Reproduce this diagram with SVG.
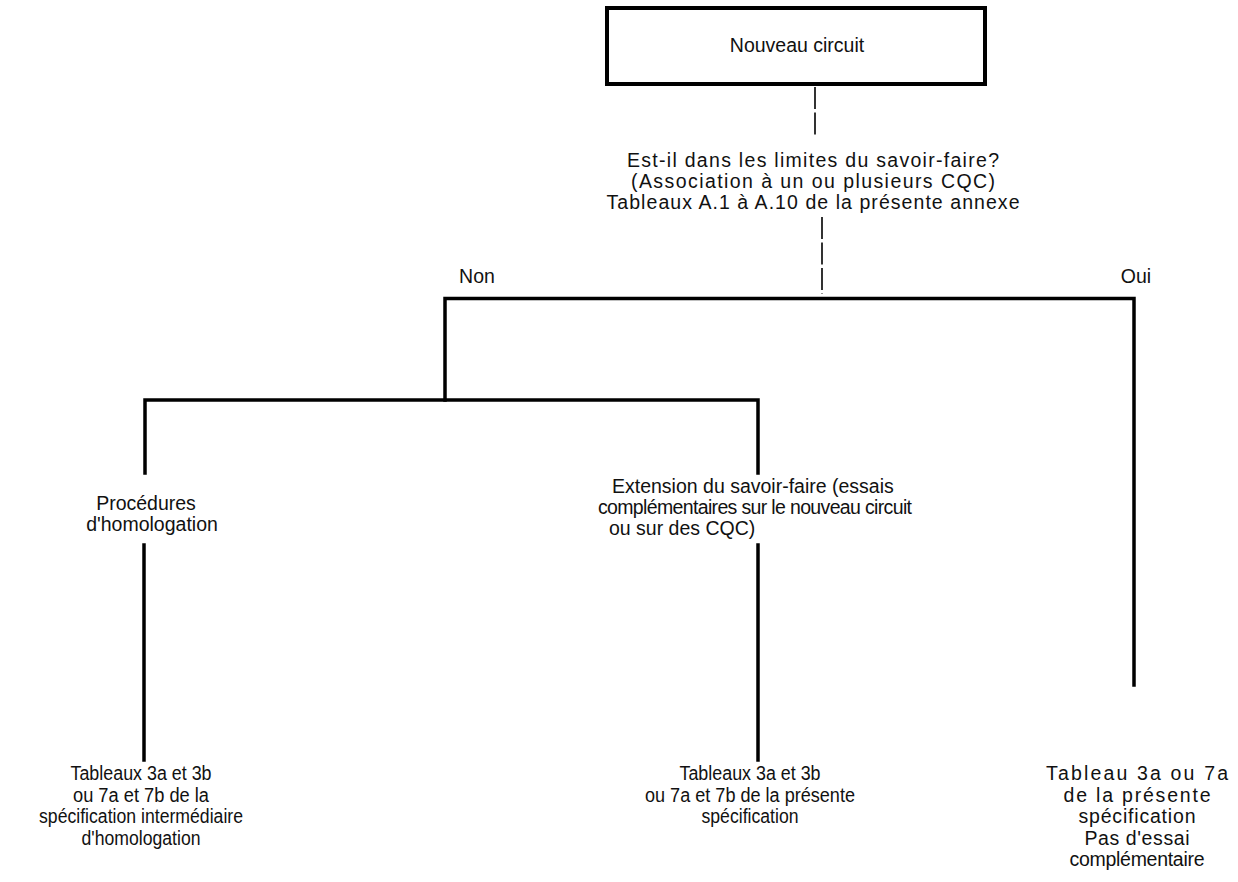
<svg xmlns="http://www.w3.org/2000/svg" width="1238" height="882" viewBox="0 0 1238 882">
<style>
text{font-family:"Liberation Sans",Arial,sans-serif;font-size:19.5px;fill:#111;text-anchor:middle}
.nar{font-size:20px}
.ln{stroke:#000;stroke-width:3.5;fill:none;stroke-linecap:square}
.dash{stroke:#000;stroke-width:1.6;fill:none;stroke-dasharray:22 3.5}
</style>
<rect width="1238" height="882" fill="#fff"/>
<g id="connectors">
<line class="dash" x1="815" y1="87" x2="815" y2="137"/>
<line class="dash" x1="822" y1="217" x2="822" y2="294"/>
<polyline class="ln" points="445,400 445,298.5 1134,298.5 1134,685"/>
<polyline class="ln" points="145,473 145,400 758,400 758,473"/>
<line class="ln" x1="144" y1="545" x2="144" y2="760"/>
<line class="ln" x1="758" y1="545" x2="758" y2="760"/>
</g>
<g id="node-start">
<rect x="607" y="8" width="378" height="76" fill="#fff" stroke="#000" stroke-width="4"/>
<text x="797" y="52">Nouveau circuit</text>
</g>
<g id="node-question">
<text x="813" y="167" textLength="372" lengthAdjust="spacing">Est-il dans les limites du savoir-faire?</text>
<text x="813" y="188" textLength="364" lengthAdjust="spacing">(Association à un ou plusieurs CQC)</text>
<text x="813" y="209" textLength="413" lengthAdjust="spacing">Tableaux A.1 à A.10 de la présente annexe</text>
</g>
<g id="label-non"><text x="477" y="283">Non</text></g>
<g id="label-oui"><text x="1136" y="283">Oui</text></g>
<g id="node-procedures">
<text x="146" y="510">Procédures</text>
<text x="152" y="531">d'homologation</text>
</g>
<g id="node-extension">
<text x="612" y="493" style="text-anchor:start">Extension du savoir-faire (essais</text>
<text x="598" y="514" style="text-anchor:start" textLength="314" lengthAdjust="spacing">complémentaires sur le nouveau circuit</text>
<text x="609" y="535" style="text-anchor:start">ou sur des CQC)</text>
</g>
<g id="node-result-left">
<text class="nar" x="141" y="780" textLength="141" lengthAdjust="spacingAndGlyphs">Tableaux 3a et 3b</text>
<text class="nar" x="141" y="802" textLength="136" lengthAdjust="spacingAndGlyphs">ou 7a et 7b de la</text>
<text class="nar" x="141" y="823" textLength="204" lengthAdjust="spacingAndGlyphs">spécification intermédiaire</text>
<text class="nar" x="141" y="845" textLength="119" lengthAdjust="spacingAndGlyphs">d'homologation</text>
</g>
<g id="node-result-mid">
<text class="nar" x="750" y="780" textLength="141" lengthAdjust="spacingAndGlyphs">Tableaux 3a et 3b</text>
<text class="nar" x="750" y="802" textLength="210" lengthAdjust="spacingAndGlyphs">ou 7a et 7b de la présente</text>
<text class="nar" x="750" y="823" textLength="97" lengthAdjust="spacingAndGlyphs">spécification</text>
</g>
<g id="node-result-right">
<text x="1137" y="780" textLength="182" lengthAdjust="spacing">Tableau 3a ou 7a</text>
<text x="1137" y="802" textLength="147" lengthAdjust="spacing">de la présente</text>
<text x="1137" y="823" textLength="117" lengthAdjust="spacing">spécification</text>
<text x="1137" y="845" textLength="105" lengthAdjust="spacing">Pas d'essai</text>
<text x="1137" y="866" textLength="135" lengthAdjust="spacing">complémentaire</text>
</g>
</svg>
